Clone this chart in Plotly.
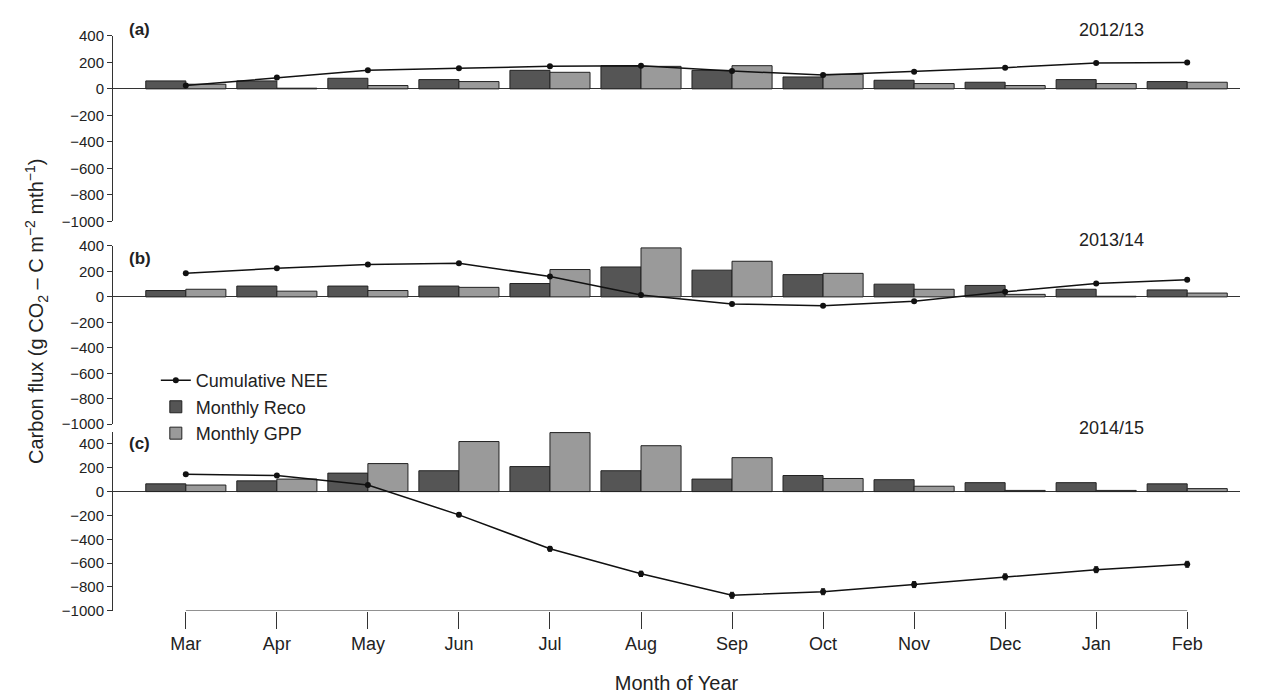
import plotly.graph_objects as go
from plotly.subplots import make_subplots

months = ['Mar', 'Apr', 'May', 'Jun', 'Jul', 'Aug', 'Sep', 'Oct', 'Nov', 'Dec', 'Jan', 'Feb']

# panel (a) 2012/13
reco_a = [60, 60, 80, 70, 140, 175, 140, 90, 65, 50, 70, 55]
gpp_a = [35, 5, 25, 55, 125, 170, 175, 110, 40, 25, 40, 50]
nee_a = [25, 85, 140, 155, 170, 175, 135, 105, 130, 160, 195, 200]
# panel (b) 2013/14
reco_b = [50, 85, 85, 85, 105, 235, 210, 175, 100, 90, 60, 55]
gpp_b = [60, 45, 50, 75, 215, 385, 280, 185, 60, 20, 5, 30]
nee_b = [185, 225, 255, 265, 160, 15, -55, -70, -35, 40, 105, 135]
# panel (c) 2014/15
reco_c = [65, 90, 155, 175, 210, 175, 105, 135, 100, 75, 75, 65]
gpp_c = [55, 105, 235, 420, 495, 385, 285, 110, 45, 10, 10, 25]
nee_c = [145, 135, 55, -195, -480, -690, -870, -840, -780, -715, -655, -610]
nee_c_err = [8, 8, 10, 15, 20, 22, 25, 25, 25, 25, 25, 25]

panels = [('(a)', '2012/13', reco_a, gpp_a, nee_a, None),
          ('(b)', '2013/14', reco_b, gpp_b, nee_b, None),
          ('(c)', '2014/15', reco_c, gpp_c, nee_c, nee_c_err)]

xs = list(range(len(months)))
font = 'Liberation Sans, Arial, sans-serif'

fig = make_subplots(rows=3, cols=1, shared_xaxes=True)

for i, (tag, year, reco, gpp, nee, err) in enumerate(panels):
    r = i + 1
    first = (i == 0)
    fig.add_trace(go.Bar(x=xs, y=reco, name='Monthly Reco', marker=dict(color='#555555', line=dict(color='#222222', width=1)),
                         showlegend=first, legendrank=2), row=r, col=1)
    fig.add_trace(go.Bar(x=xs, y=gpp, name='Monthly GPP', marker=dict(color='#9a9a9a', line=dict(color='#222222', width=1)),
                         showlegend=first, legendrank=3), row=r, col=1)
    fig.add_trace(go.Scatter(x=xs, y=nee, name='Cumulative NEE', mode='lines+markers',
                             line=dict(color='#111111', width=1.5), marker=dict(size=6, color='#111111'),
                             error_y=dict(type='data', array=err, color='#111111', thickness=1, width=2) if err else None,
                             showlegend=first, legendrank=1), row=r, col=1)

domains = [[0.649, 0.957], [0.312, 0.608], [0.002, 0.299]]
ranges = [[-1000, 400], [-1000, 400], [-1000, 500]]
tag_y = [0.987, 0.588, 0.261]
year_y = [0.987, 0.618, 0.286]
for i in range(3):
    yk = 'yaxis' if i == 0 else 'yaxis%d' % (i + 1)
    xk = 'xaxis' if i == 0 else 'xaxis%d' % (i + 1)
    fig.layout[yk].update(domain=domains[i], range=ranges[i], tickvals=list(range(-1000, 401, 200)),
                          showline=True, linecolor='#333333', ticks='outside', ticklen=5, tickcolor='#333333',
                          showgrid=False, zeroline=True, zerolinecolor='#333333', zerolinewidth=1,
                          automargin=False, tickfont=dict(size=15, color='#222222'))
    fig.layout[xk].update(range=[-0.8, 11.58], showgrid=False, zeroline=False, showline=False,
                          tickvals=xs, ticktext=months, showticklabels=(i == 2), automargin=False,
                          ticks='outside' if i == 2 else '', ticklen=17, tickcolor='#333333',
                          tickfont=dict(size=18, color='#222222'))
    fig.add_annotation(text='<b>%s</b>' % panels[i][0], xref='paper', x=0.012, yref='paper', y=tag_y[i],
                       showarrow=False, xanchor='left', font=dict(size=17, color='#222222'))
    fig.add_annotation(text=panels[i][1], xref='paper', x=0.886, yref='paper', y=year_y[i],
                       showarrow=False, xanchor='center', font=dict(size=18, color='#222222'))

fig.add_shape(type='line', xref='x3', yref='y3', x0=0, x1=11, y0=-1000, y1=-1000, line=dict(color='#333333', width=1))
fig.update_xaxes(title_text='Month of Year', title_font=dict(size=20, color='#222222'), title_standoff=22, row=3, col=1)
fig.add_annotation(text='Carbon flux (g CO<sub>2</sub> \u2013 C m<sup>\u22122</sup> mth<sup>\u22121</sup>)',
                   xref='paper', yref='paper', x=-0.083, y=0.5, textangle=-90, showarrow=False,
                   font=dict(size=20, color='#222222'))

fig.update_layout(width=1268, height=692, margin=dict(l=105, r=36, t=2, b=88),
                  plot_bgcolor='white', paper_bgcolor='white', font=dict(family=font),
                  barmode='group', bargap=0.12, bargroupgap=0,
                  legend=dict(x=0.038, y=0.415, xanchor='left', yanchor='top', bgcolor='rgba(0,0,0,0)',
                              font=dict(size=18, color='#222222'), tracegroupgap=0))

fig.write_html('out.html')
